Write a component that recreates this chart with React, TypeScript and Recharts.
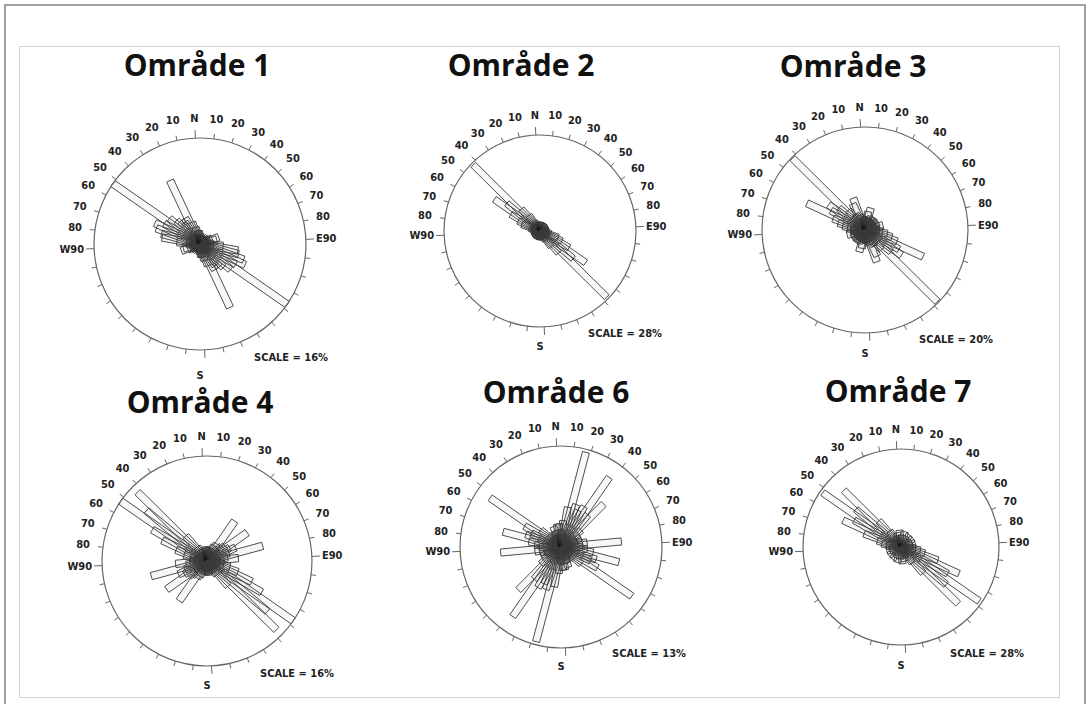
import React from 'react';
import { RadialBarChart, RadialBar, PolarAngleAxis, PolarRadiusAxis } from 'recharts';

// strike bins (degrees from N, 5 degree classes); each petal is mirrored to the opposite side
const strikeBins = [
  0, 5, 10, 15, 20, 25, 30, 35, 40, 45, 50, 55, 60, 65, 70, 75, 80, 85,
  90, 95, 100, 105, 110, 115, 120, 125, 130, 135, 140, 145, 150, 155, 160, 165, 170, 175,
];

const omrade1 = [
  2.0, 1.6, 1.3, 1.3, 1.3, 1.3, 1.1, 1.3, 1.1, 1.3, 1.3, 1.6, 1.3, 1.6, 2.0, 3.0, 2.6, 1.6,
  1.3, 2.0, 3.5, 5.8, 6.0, 7.0, 7.5, 6.2, 16.0, 6.0, 5.0, 4.5, 4.0, 4.5, 10.6, 3.5, 2.6, 2.0,
];
const omrade2 = [
  2.5, 1.7, 2.5, 1.7, 2.5, 1.7, 2.5, 1.7, 2.5, 1.7, 2.5, 1.7, 2.5, 1.7, 2.5, 1.7, 2.5, 1.7,
  2.5, 1.7, 2.5, 2.5, 3.2, 5.6, 7.0, 9.8, 16.2, 12.6, 27.4, 8.4, 5.6, 3.2, 2.5, 1.7, 2.5, 1.7,
];
const omrade3 = [
  2.6, 2.0, 2.4, 3.6, 4.4, 2.4, 2.8, 2.2, 3.0, 2.2, 2.8, 2.2, 2.4, 3.0, 2.2, 2.8, 3.6, 2.2,
  2.6, 2.8, 3.4, 4.4, 5.4, 6.6, 12.4, 7.6, 8.6, 6.6, 19.8, 5.0, 3.4, 3.6, 5.6, 6.6, 3.0, 2.4,
];
const omrade4 = [
  2.2, 1.6, 1.6, 2.0, 1.6, 2.0, 2.6, 3.0, 7.4, 2.4, 3.2, 3.6, 7.5, 4.0, 4.8, 3.6, 8.8, 3.2,
  4.8, 2.6, 2.0, 2.6, 3.6, 5.0, 7.5, 9.6, 16.0, 12.0, 14.9, 5.0, 2.6, 2.0, 1.6, 2.0, 1.6, 2.0,
];
const omrade6 = [
  3.0, 2.2, 3.4, 5.2, 12.6, 5.8, 5.2, 6.0, 10.9, 5.4, 7.8, 3.4, 2.8, 2.2, 2.8, 2.2, 2.8, 3.4,
  7.8, 2.8, 3.4, 4.2, 7.7, 4.8, 4.2, 5.4, 11.1, 3.4, 2.2, 1.7, 2.2, 1.7, 2.2, 2.8, 2.2, 3.0,
];
const omrade7 = [
  4.8, 1.4, 3.4, 1.4, 4.5, 1.4, 3.4, 1.4, 4.2, 1.4, 2.8, 1.4, 4.2, 1.4, 3.4, 1.4, 4.2, 1.4,
  3.4, 1.4, 4.2, 5.6, 7.0, 11.2, 18.2, 15.4, 27.2, 16.8, 23.0, 9.8, 5.6, 2.8, 3.4, 1.4, 4.2, 1.4,
];

const titles = ['Område 1', 'Område 2', 'Område 3', 'Område 4', 'Område 6', 'Område 7'];
const scales = [16, 28, 20, 16, 13, 28];
const series = [omrade1, omrade2, omrade3, omrade4, omrade6, omrade7];

// where each diagram sits on the page
const panels = [
  { cx: 200, cy: 244, r: 106, tx: 197, ty: 76, sx: 254, sy: 361, south: 379 },
  { cx: 540, cy: 231, r: 96, tx: 521, ty: 76, sx: 588, sy: 337, south: 350 },
  { cx: 865, cy: 230, r: 103, tx: 853, ty: 77, sx: 919, sy: 343, south: 357 },
  { cx: 207, cy: 561, r: 105, tx: 200, ty: 413, sx: 260, sy: 677, south: 689 },
  { cx: 561, cy: 547, r: 101, tx: 556, ty: 403, sx: 612, sy: 657, south: 670 },
  { cx: 901, cy: 547, r: 98, tx: 898, ty: 402, sx: 950, sy: 657, south: 669 },
];

const BOX = 360;
const labelFont = "'DejaVu Sans Condensed', 'DejaVu Sans', sans-serif";

const buildRose = (values: number[]) => [
  ...strikeBins.map((d, i) => ({ dir: d, pct: values[i] })),
  ...strikeBins.map((d, i) => ({ dir: d + 180, pct: values[i] })),
];

// petals are drawn as straight bars of constant width, like the original software;
// a faint fill makes the crowded centre go dark the way the scanned plot does
const makePetal = (R: number) => (props: any) => {
  const { cx, cy, outerRadius, startAngle, endAngle } = props;
  if (!outerRadius || outerRadius <= 0) return <g />;
  const mid = (((startAngle + endAngle) / 2) * Math.PI) / 180;
  const h = ((Math.abs(endAngle - startAngle) * Math.PI) / 180) * R / 2;
  const ux = Math.cos(mid);
  const uy = -Math.sin(mid);
  const nx = -uy;
  const ny = ux;
  const L = outerRadius;
  const d = `M${cx + nx * h},${cy + ny * h} L${cx + nx * h + ux * L},${cy + ny * h + uy * L} L${cx - nx * h + ux * L},${cy - ny * h + uy * L} L${cx - nx * h},${cy - ny * h} Z`;
  return <path d={d} fill="#000" fillOpacity={0.03} stroke="#3a3a3a" strokeWidth={0.9} />;
};

const makeTick = (cx: number, cy: number, r: number) => (props: any) => {
  const { payload } = props;
  const az = Number(payload.value);
  if (az % 10 !== 0) return <g />;
  const angle = payload.coordinate !== undefined ? payload.coordinate : 90 - az;
  const rad = (-angle * Math.PI) / 180;
  const ux = Math.cos(rad);
  const uy = Math.sin(rad);
  const len = az % 90 === 0 ? 8 : 5;
  let label: string | null = null;
  if (az === 0) label = 'N';
  else if (az === 90) label = 'E90';
  else if (az === 270) label = 'W90';
  else if (az < 90) label = String(az);
  else if (az > 270) label = String(360 - az);
  let lr = r + 20;
  let anchor: 'middle' | 'start' | 'end' = 'middle';
  if (az === 90) { lr = r + 10; anchor = 'start'; }
  if (az === 270) { lr = r + 10; anchor = 'end'; }
  return (
    <g>
      <line x1={cx + r * ux} y1={cy + r * uy} x2={cx + (r + len) * ux} y2={cy + (r + len) * uy} stroke="#666" strokeWidth={1} />
      {label && (
        <text
          x={cx + lr * ux}
          y={cy + lr * uy}
          textAnchor={anchor}
          dominantBaseline="central"
          fontFamily={labelFont}
          fontWeight="bold"
          fontSize={11}
          fill="#222"
        >
          {label}
        </text>
      )}
    </g>
  );
};

const Rose = ({ values, scale, r }: { values: number[]; scale: number; r: number }) => {
  const c = BOX / 2;
  return (
    <RadialBarChart
      width={BOX}
      height={BOX}
      data={buildRose(values)}
      layout="centric"
      cx={c}
      cy={c}
      innerRadius={0}
      outerRadius={r}
      startAngle={92.5}
      endAngle={-267.5}
      barCategoryGap="15%"
      margin={{ top: 0, right: 0, bottom: 0, left: 0 }}
    >
      <PolarAngleAxis
        dataKey="dir"
        type="category"
        axisLineType="circle"
        axisLine={{ stroke: '#666', strokeWidth: 1.2 }}
        tickLine={false}
        tick={makeTick(c, c, r)}
      />
      <PolarRadiusAxis type="number" domain={[0, scale]} allowDataOverflow tick={false} axisLine={false} />
      <RadialBar dataKey="pct" isAnimationActive={false} shape={makePetal(r)} fill="none" stroke="#3a3a3a" />
    </RadialBarChart>
  );
};

export default function App() {
  return (
    <div style={{ position: 'absolute', left: 0, top: 0, width: 1089, height: 704, background: '#fff', overflow: 'hidden' }}>
      <svg width={1089} height={704} style={{ position: 'absolute', left: 0, top: 0 }}>
        <rect x={5} y={5} width={1080} height={720} fill="none" stroke="#a0a0a0" strokeWidth={2} />
        <rect x={19.5} y={46.5} width={1040} height={651} fill="none" stroke="#d4d4d4" strokeWidth={1} />
        {panels.map((p, i) => (
          <g key={titles[i]}>
            <text x={p.tx} y={p.ty} textAnchor="middle" fontFamily="'Open Sans', sans-serif" fontWeight={700} fontSize={30} fill="#111">
              {titles[i]}
            </text>
            <text x={p.sx} y={p.sy} fontFamily={labelFont} fontWeight="bold" fontSize={11} fill="#222">
              {`SCALE = ${scales[i]}%`}
            </text>
            <text x={p.cx} y={p.south} textAnchor="middle" fontFamily={labelFont} fontWeight="bold" fontSize={11} fill="#222">
              S
            </text>
          </g>
        ))}
      </svg>
      {panels.map((p, i) => (
        <div key={titles[i]} style={{ position: 'absolute', left: p.cx - BOX / 2, top: p.cy - BOX / 2, width: BOX, height: BOX }}>
          <Rose values={series[i]} scale={scales[i]} r={p.r} />
        </div>
      ))}
    </div>
  );
}
